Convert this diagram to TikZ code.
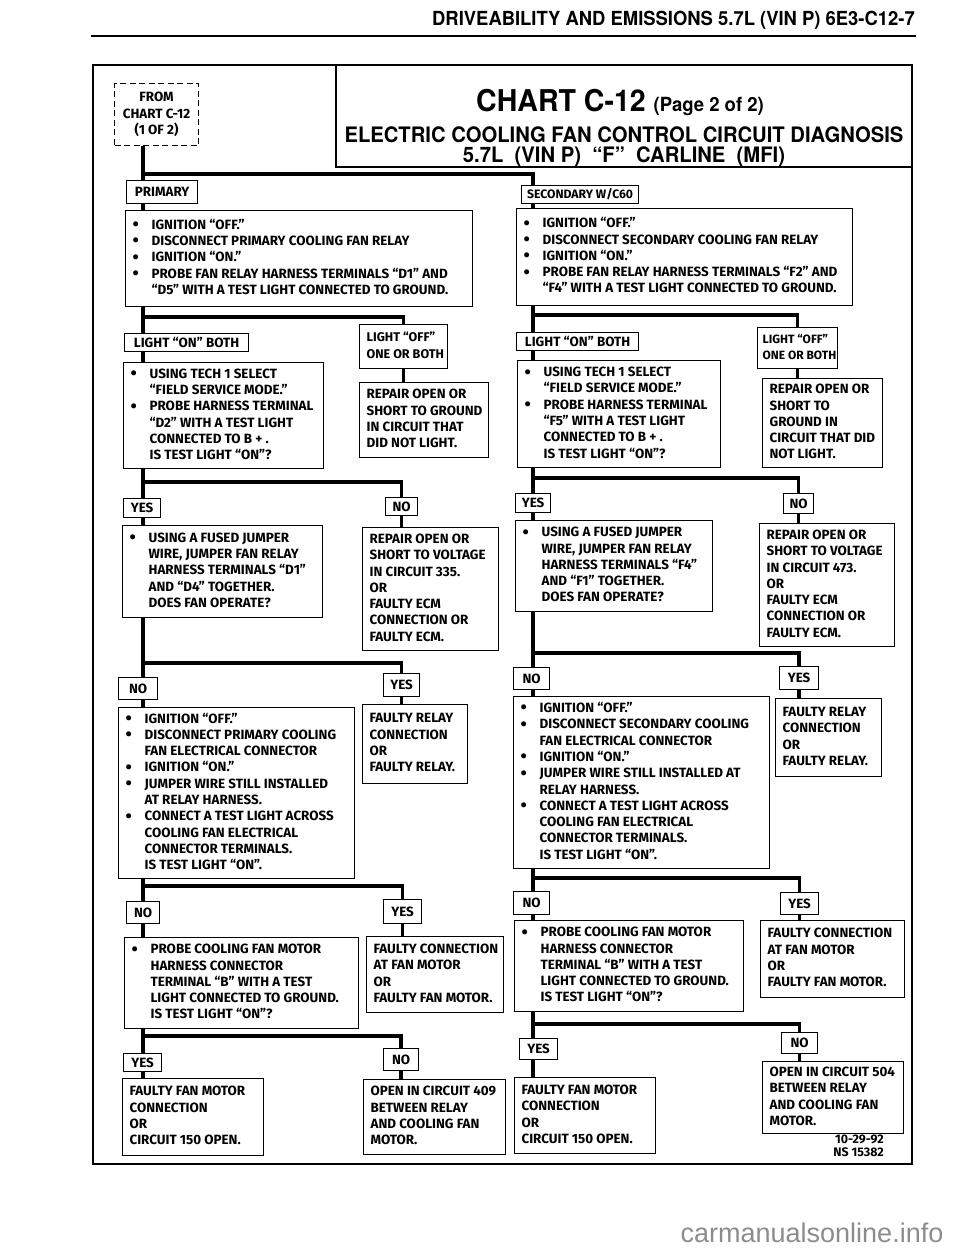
\documentclass[tikz,border=0pt]{standalone}
\usepackage{fontspec}
\usepackage{graphicx}
\setmainfont{Fira Sans}
\newfontfamily\headfont{TeX Gyre Heros}[FakeStretch=0.95]
\newfontfamily\markfont{Liberation Sans}
\usetikzlibrary{positioning,calc}

\newcommand\bodyfont{\bfseries\fontsize{13.4}{16.3}\selectfont}
\newcommand\bitem{\makebox[19pt][l]{\raisebox{-1.4pt}{\scalebox{1.35}{\textbullet}}}}
\newcommand\bcont{\hspace*{19pt}}
% left-set block of lines, never wrapped
\newcommand\boxtext[2]{\makebox[#1][l]{\begin{tabular}{@{}l@{}}#2\end{tabular}}}

\tikzset{
  box/.style={draw,line width=1.2pt,fill=white,anchor=north west,
              inner xsep=7pt,inner ysep=0pt},
  tag/.style={draw,line width=1.2pt,fill=white,anchor=north west,
              align=center,inner sep=0pt},
  jump/.style={tag,dash pattern=on 6pt off 3.5pt},
  wire/.style={line width=3.5pt},
  headtxt/.style={inner sep=0pt,anchor=base},
}

\begin{document}
\begin{tikzpicture}[x=1pt,y=-1pt,font=\bodyfont]
  \useasboundingbox (0,0) rectangle (960,1250);

  % ---- page head ----
  \node[headtxt,anchor=base east,font=\headfont\bfseries\fontsize{19.4}{19.4}\selectfont] (hdr)
    at (915,25) {DRIVEABILITY AND EMISSIONS 5.7L (VIN P) 6E3-C12-7};
  \draw[line width=2pt] (91,36) -- (916,36);

  % ---- frame and title block ----
  \draw[line width=2.8pt] (93,65) rectangle (912,1164);
  \draw[line width=1.4pt] (336,65) |- (912,167);
  \node[headtxt,font=\headfont\bfseries\fontsize{30}{30}\selectfont] (ttl) at (620,111)
    {CHART C-12 {\fontsize{19.5}{19.5}\selectfont(Page 2 of 2)}};
  \node[headtxt,font=\headfont\bfseries\fontsize{21.3}{21.3}\selectfont] (sub) at (624,142)
    {ELECTRIC COOLING FAN CONTROL CIRCUIT DIAGNOSIS};
  \node[headtxt,font=\headfont\bfseries\fontsize{21.3}{21.3}\selectfont] (car) at (624,162.5)
    {5.7L\ \ (VIN P)\ \ “F”\ \ CARLINE\ \ (MFI)};

  \node[jump,minimum width=84pt,minimum height=62pt] (from) at (114,83)
    {FROM\\CHART C-12\\(1 OF 2)};

  % ---- primary column ----
  \node[tag,minimum width=71pt,minimum height=23pt] (prim) at (126,180) {PRIMARY};
  \node[box,minimum height=96pt] (p1) at (125,210) {\boxtext{333pt}{
    \bitem IGNITION “OFF.”\\
    \bitem DISCONNECT PRIMARY COOLING FAN RELAY\\
    \bitem IGNITION “ON.”\\
    \bitem PROBE FAN RELAY HARNESS TERMINALS “D1” AND\\
    \bcont “D5” WITH A TEST LIGHT CONNECTED TO GROUND.}};
  \node[tag,minimum width=124pt,minimum height=18pt] (pOn) at (124,333) {LIGHT “ON” BOTH};
  \node[box,minimum height=44pt,font=\bfseries\fontsize{12.6}{16.3}\selectfont] (pOff)
    at (359,324) {\boxtext{74pt}{LIGHT “OFF”\\ONE OR BOTH}};
  \node[box,minimum height=75pt] (pRep) at (359,382) {\boxtext{115pt}{
    REPAIR OPEN OR\\SHORT TO GROUND\\IN CIRCUIT THAT\\DID NOT LIGHT.}};
  \node[box,minimum height=106pt] (pTech) at (123,362) {\boxtext{186pt}{
    \bitem USING TECH 1 SELECT\\
    \bcont “FIELD SERVICE MODE.”\\
    \bitem PROBE HARNESS TERMINAL\\
    \bcont “D2” WITH A TEST LIGHT\\
    \bcont CONNECTED TO B + .\\
    \bcont IS TEST LIGHT “ON”?}};
  \node[tag,minimum width=37pt,minimum height=19pt] (pYes1) at (123,498) {YES};
  \node[tag,minimum width=32pt,minimum height=18pt] (pNo1) at (385,497) {NO};
  \node[box,minimum height=92pt] (pJmp) at (122,525) {\boxtext{186pt}{
    \bitem USING A FUSED JUMPER\\
    \bcont WIRE, JUMPER FAN RELAY\\
    \bcont HARNESS TERMINALS “D1”\\
    \bcont AND “D4” TOGETHER.\\
    \bcont DOES FAN OPERATE?}};
  \node[box,minimum height=123pt] (pVolt) at (362,527) {\boxtext{122pt}{
    REPAIR OPEN OR\\SHORT TO VOLTAGE\\IN CIRCUIT 335.\\OR\\FAULTY ECM\\
    CONNECTION OR\\FAULTY ECM.}};
  \node[tag,minimum width=39pt,minimum height=22pt] (pNo2) at (118,677) {NO};
  \node[tag,minimum width=36pt,minimum height=23pt] (pYes2) at (383,673) {YES};
  \node[box,minimum height=171pt] (pIgn) at (118,707) {\boxtext{222pt}{
    \bitem IGNITION “OFF.”\\
    \bitem DISCONNECT PRIMARY COOLING\\
    \bcont FAN ELECTRICAL CONNECTOR\\
    \bitem IGNITION “ON.”\\
    \bitem JUMPER WIRE STILL INSTALLED\\
    \bcont AT RELAY HARNESS.\\
    \bitem CONNECT A TEST LIGHT ACROSS\\
    \bcont COOLING FAN ELECTRICAL\\
    \bcont CONNECTOR TERMINALS.\\
    \bcont IS TEST LIGHT “ON”.}};
  \node[box,minimum height=79pt] (pRly) at (362,704) {\boxtext{91pt}{
    FAULTY RELAY\\CONNECTION\\OR\\FAULTY RELAY.}};
  \node[tag,minimum width=33pt,minimum height=22pt] (pNo3) at (126,901) {NO};
  \node[tag,minimum width=38pt,minimum height=24pt] (pYes3) at (383,899) {YES};
  \node[box,minimum height=91pt] (pPrb) at (124,937) {\boxtext{220pt}{
    \bitem PROBE COOLING FAN MOTOR\\
    \bcont HARNESS CONNECTOR\\
    \bcont TERMINAL “B” WITH A TEST\\
    \bcont LIGHT CONNECTED TO GROUND.\\
    \bcont IS TEST LIGHT “ON”?}};
  \node[box,minimum height=76pt] (pMot) at (366,936) {\boxtext{123pt}{
    FAULTY CONNECTION\\AT FAN MOTOR\\OR\\FAULTY FAN MOTOR.}};
  \node[tag,minimum width=38pt,minimum height=18pt] (pYes4) at (123,1053) {YES};
  \node[tag,minimum width=35pt,minimum height=22pt] (pNo4) at (383,1048) {NO};
  \node[box,minimum height=77pt] (pFfm) at (122,1078) {\boxtext{127pt}{
    FAULTY FAN MOTOR\\CONNECTION\\OR\\CIRCUIT 150 OPEN.}};
  \node[box,minimum height=75pt] (p409) at (363,1079) {\boxtext{128pt}{
    OPEN IN CIRCUIT 409\\BETWEEN RELAY\\AND COOLING FAN\\MOTOR.}};

  % ---- secondary column ----
  \node[tag,minimum width=117pt,minimum height=18pt,font=\bfseries\fontsize{12.2}{14}\selectfont]
    (sec) at (521,185) {SECONDARY W/C60};
  \node[box,minimum height=97pt] (s1) at (516,208) {\boxtext{322pt}{
    \bitem IGNITION “OFF.”\\
    \bitem DISCONNECT SECONDARY COOLING FAN RELAY\\
    \bitem IGNITION “ON.”\\
    \bitem PROBE FAN RELAY HARNESS TERMINALS “F2” AND\\
    \bcont “F4” WITH A TEST LIGHT CONNECTED TO GROUND.}};
  \node[tag,minimum width=122pt,minimum height=18pt] (sOn) at (516,332) {LIGHT “ON” BOTH};
  \node[box,minimum height=41pt,inner xsep=5pt,font=\bfseries\fontsize{12}{16.3}\selectfont]
    (sOff) at (757,327) {\boxtext{70pt}{LIGHT “OFF”\\ONE OR BOTH}};
  \node[box,minimum height=89pt] (sRep) at (762,378) {\boxtext{106pt}{
    REPAIR OPEN OR\\SHORT TO\\GROUND IN\\CIRCUIT THAT DID\\NOT LIGHT.}};
  \node[box,minimum height=107pt] (sTech) at (517,360) {\boxtext{189pt}{
    \bitem USING TECH 1 SELECT\\
    \bcont “FIELD SERVICE MODE.”\\
    \bitem PROBE HARNESS TERMINAL\\
    \bcont “F5” WITH A TEST LIGHT\\
    \bcont CONNECTED TO B + .\\
    \bcont IS TEST LIGHT “ON”?}};
  \node[tag,minimum width=35pt,minimum height=19pt] (sYes1) at (515,493) {YES};
  \node[tag,minimum width=30pt,minimum height=20pt] (sNo1) at (783,493) {NO};
  \node[box,minimum height=91pt] (sJmp) at (515,520) {\boxtext{183pt}{
    \bitem USING A FUSED JUMPER\\
    \bcont WIRE, JUMPER FAN RELAY\\
    \bcont HARNESS TERMINALS “F4”\\
    \bcont AND “F1” TOGETHER.\\
    \bcont DOES FAN OPERATE?}};
  \node[box,minimum height=123pt] (sVolt) at (759,523) {\boxtext{121pt}{
    REPAIR OPEN OR\\SHORT TO VOLTAGE\\IN CIRCUIT 473.\\OR\\FAULTY ECM\\
    CONNECTION OR\\FAULTY ECM.}};
  \node[tag,minimum width=36pt,minimum height=22pt] (sNo2) at (513,667) {NO};
  \node[tag,minimum width=39pt,minimum height=23pt] (sYes2) at (779,666) {YES};
  \node[box,minimum height=172pt] (sIgn) at (513,696) {\boxtext{242pt}{
    \bitem IGNITION “OFF.”\\
    \bitem DISCONNECT SECONDARY COOLING\\
    \bcont FAN ELECTRICAL CONNECTOR\\
    \bitem IGNITION “ON.”\\
    \bitem JUMPER WIRE STILL INSTALLED AT\\
    \bcont RELAY HARNESS.\\
    \bitem CONNECT A TEST LIGHT ACROSS\\
    \bcont COOLING FAN ELECTRICAL\\
    \bcont CONNECTOR TERMINALS.\\
    \bcont IS TEST LIGHT “ON”.}};
  \node[box,minimum height=78pt] (sRly) at (775,698) {\boxtext{92pt}{
    FAULTY RELAY\\CONNECTION\\OR\\FAULTY RELAY.}};
  \node[tag,minimum width=36pt,minimum height=23pt] (sNo3) at (513,891) {NO};
  \node[tag,minimum width=38pt,minimum height=22pt] (sYes3) at (780,892) {YES};
  \node[box,minimum height=91pt] (sPrb) at (514,920) {\boxtext{215pt}{
    \bitem PROBE COOLING FAN MOTOR\\
    \bcont HARNESS CONNECTOR\\
    \bcont TERMINAL “B” WITH A TEST\\
    \bcont LIGHT CONNECTED TO GROUND.\\
    \bcont IS TEST LIGHT “ON”?}};
  \node[box,minimum height=77pt] (sMot) at (760,920) {\boxtext{130pt}{
    FAULTY CONNECTION\\AT FAN MOTOR\\OR\\FAULTY FAN MOTOR.}};
  \node[tag,minimum width=38pt,minimum height=21pt] (sYes4) at (519,1038) {YES};
  \node[tag,minimum width=36pt,minimum height=21pt] (sNo4) at (781,1032) {NO};
  \node[box,minimum height=76pt] (sFfm) at (514,1077) {\boxtext{127pt}{
    FAULTY FAN MOTOR\\CONNECTION\\OR\\CIRCUIT 150 OPEN.}};
  \node[box,minimum height=72pt] (s504) at (762,1061) {\boxtext{127pt}{
    OPEN IN CIRCUIT 504\\BETWEEN RELAY\\AND COOLING FAN\\MOTOR.}};

  \node[inner sep=0pt,anchor=north east,align=right,
        font=\bfseries\fontsize{12.4}{13}\selectfont] (date) at (884,1135)
    {10-29-92\\NS 15382};

  % ---- trunk lines ----
  \coordinate (j0) at (143,174);
  \coordinate (colS) at (533,174);
  \draw[wire] (from.south -| j0) -- (prim.north -| j0);
  \draw[wire] (j0) -| (sec.north -| colS);
  \draw[wire] (prim.south -| j0) -- (p1.north -| j0);
  \draw[wire] (sec.south -| colS) -- (s1.north -| colS);

  % primary branches
  \coordinate (jP1) at (143,317);
  \draw[wire] (p1.south -| jP1) -- (pOn.north -| jP1);
  \draw[wire] (jP1) -| (pOff.north);
  \draw[wire] (pOn.south -| jP1) -- (pTech.north -| jP1);
  \draw[wire] (pOff.south) -- (pOff.south |- pRep.north);

  \coordinate (jP2) at (143,482);
  \draw[wire] (pTech.south -| jP2) -- (pYes1.north -| jP2);
  \draw[wire] (jP2) -| (pNo1.north);
  \draw[wire] (pYes1.south -| jP2) -- (pJmp.north -| jP2);
  \draw[wire] (pNo1.south) -- (pNo1.south |- pVolt.north);

  \coordinate (jP3) at (143,663);
  \draw[wire] (pJmp.south -| jP3) -- (pNo2.north -| jP3);
  \draw[wire] (jP3) -| (pYes2.north);
  \draw[wire] (pNo2.south -| jP3) -- (pIgn.north -| jP3);
  \draw[wire] (pYes2.south) -- (pYes2.south |- pRly.north);

  \coordinate (jP4) at (143,886);
  \draw[wire] (pIgn.south -| jP4) -- (pNo3.north -| jP4);
  \draw[wire] (jP4) -| (pYes3.north);
  \draw[wire] (pNo3.south -| jP4) -- (pPrb.north -| jP4);
  \draw[wire] (pYes3.south) -- (pYes3.south |- pMot.north);

  \coordinate (jP5) at (143,1036);
  \draw[wire] (pPrb.south -| jP5) -- (pYes4.north -| jP5);
  \draw[wire] (jP5) -| (pNo4.north);
  \draw[wire] (pYes4.south -| jP5) -- (pFfm.north -| jP5);
  \draw[wire] (pNo4.south) -- (pNo4.south |- p409.north);

  % secondary branches
  \coordinate (jS1) at (533,315);
  \draw[wire] (s1.south -| jS1) -- (sOn.north -| jS1);
  \draw[wire] (jS1) -| (sOff.north);
  \draw[wire] (sOn.south -| jS1) -- (sTech.north -| jS1);
  \draw[wire] (sOff.south) -- (sOff.south |- sRep.north);

  \coordinate (jS2) at (533,478);
  \draw[wire] (sTech.south -| jS2) -- (sYes1.north -| jS2);
  \draw[wire] (jS2) -| (sNo1.north);
  \draw[wire] (sYes1.south -| jS2) -- (sJmp.north -| jS2);
  \draw[wire] (sNo1.south) -- (sNo1.south |- sVolt.north);

  \coordinate (jS3) at (533,653);
  \draw[wire] (sJmp.south -| jS3) -- (sNo2.north -| jS3);
  \draw[wire] (jS3) -| (sYes2.north);
  \draw[wire] (sNo2.south -| jS3) -- (sIgn.north -| jS3);
  \draw[wire] (sYes2.south) -- (sYes2.south |- sRly.north);

  \coordinate (jS4) at (533,878);
  \draw[wire] (sIgn.south -| jS4) -- (sNo3.north -| jS4);
  \draw[wire] (jS4) -| (sYes3.north);
  \draw[wire] (sNo3.south -| jS4) -- (sPrb.north -| jS4);
  \draw[wire] (sYes3.south) -- (sYes3.south |- sMot.north);

  \coordinate (jS5) at (533,1024);
  \draw[wire] (sPrb.south -| jS5) -- (sYes4.north -| jS5);
  \draw[wire] (jS5) -| (sNo4.north);
  \draw[wire] (sYes4.south -| jS5) -- (sFfm.north -| jS5);
  \draw[wire] (sNo4.south) -- (sNo4.south |- s504.north);

  % site mark below the frame
  \node[inner sep=0pt,anchor=base,text=black!45,
        font=\markfont\fontsize{27}{27}\selectfont] (mark) at (812,1242)
    {carmanualsonline.info};
\end{tikzpicture}
\end{document}
